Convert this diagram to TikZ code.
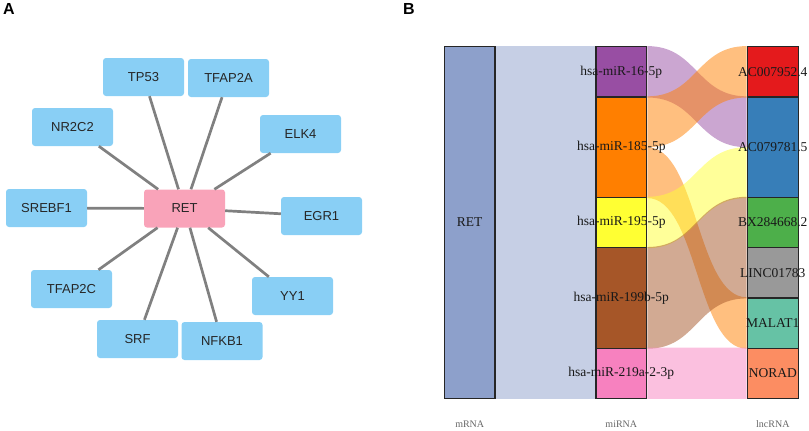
\documentclass[tikz,border=0pt]{standalone}
\usepackage{fontspec}
\setmainfont{Liberation Serif}
\newfontfamily\genefont{Liberation Sans}
\usetikzlibrary{backgrounds}
\definecolor{geneblue}{HTML}{89CFF5}
\definecolor{retpink}{HTML}{F9A3B9}
\definecolor{edgegray}{HTML}{808080}
\definecolor{cRET}{HTML}{8DA0CB}
\definecolor{cMIRa}{HTML}{984EA3}
\definecolor{cMIRb}{HTML}{FF7F00}
\definecolor{cMIRc}{HTML}{FFFF33}
\definecolor{cMIRd}{HTML}{A65628}
\definecolor{cMIRe}{HTML}{F781BF}
\definecolor{cLNCa}{HTML}{E41A1C}
\definecolor{cLNCb}{HTML}{377EB8}
\definecolor{cLNCc}{HTML}{4DAF4A}
\definecolor{cLNCd}{HTML}{999999}
\definecolor{cLNCe}{HTML}{66C2A5}
\definecolor{cLNCf}{HTML}{FC8D62}
\tikzset{
  genebox/.style={rectangle, rounded corners=3pt, fill=geneblue, minimum width=81pt, minimum height=38pt, inner sep=0pt, font=\genefont\fontsize{13}{15}\selectfont, text=black!85},
  tie/.style={draw=edgegray, line width=2.7pt},
  bar/.style={rectangle, draw=black!85, line width=1.2pt, inner sep=0pt},
  every label/.style={font=\fontsize{13.5}{16}\selectfont, text=black!90, inner sep=0pt},
  axislabel/.style={font=\fontsize{10}{12}\selectfont, text=black!60, inner sep=0pt},
  panel/.style={font=\genefont\bfseries\fontsize{16}{18}\selectfont, anchor=base west, inner sep=0pt}
}
\newcommand{\flowband}[5]{\fill[#1, fill opacity=0.5] (#2) .. controls +(50,0) and +(-50,0) .. (#4) -- (#5) .. controls +(-50,0) and +(50,0) .. (#3) -- cycle;}

\begin{document}
\begin{tikzpicture}[x=1pt, y=-1pt]
\useasboundingbox (0,0) rectangle (809,431);
% panel A
\node[panel] (pA) at (3,15) {A};
\node[genebox, fill=retpink] (gRET) at (184.5,208.5) {RET};
\node[genebox] (gTP53) at (143.5,77) {TP53};
\node[genebox] (gTFAP2A) at (228.5,78) {TFAP2A};
\node[genebox] (gNR2C2) at (72.5,127) {NR2C2};
\node[genebox] (gELK4) at (300.5,134) {ELK4};
\node[genebox] (gSREBF1) at (46.5,208) {SREBF1};
\node[genebox] (gEGR1) at (321.5,216) {EGR1};
\node[genebox] (gTFAP2C) at (71.5,289) {TFAP2C};
\node[genebox] (gYY1) at (292.5,296) {YY1};
\node[genebox] (gSRF) at (137.5,339) {SRF};
\node[genebox] (gNFKB1) at (222,341) {NFKB1};
\draw[tie] (gRET) -- (gTP53);
\draw[tie] (gRET) -- (gTFAP2A);
\draw[tie] (gRET) -- (gNR2C2);
\draw[tie] (gRET) -- (gELK4);
\draw[tie] (gRET) -- (gSREBF1);
\draw[tie] (gRET) -- (gEGR1);
\draw[tie] (gRET) -- (gTFAP2C);
\draw[tie] (gRET) -- (gYY1);
\draw[tie] (gRET) -- (gSRF);
\draw[tie] (gRET) -- (gNFKB1);
% panel B
\node[panel] (pB) at (403,15) {B};
\node[bar, fill=cRET, minimum width=50.7pt, minimum height=351.6pt, label=center:RET] (bRET) at (469.7,222.5) {};
\node[bar, fill=cMIRa, minimum width=50.7pt, minimum height=50.2pt, label=center:hsa-miR-16-5p] (m16) at (621.3,71.8) {};
\node[bar, fill=cMIRb, minimum width=50.7pt, minimum height=100.5pt, label=center:hsa-miR-185-5p] (m185) at (621.3,147.2) {};
\node[bar, fill=cMIRc, minimum width=50.7pt, minimum height=50.2pt, label=center:hsa-miR-195-5p] (m195) at (621.3,222.5) {};
\node[bar, fill=cMIRd, minimum width=50.7pt, minimum height=100.5pt, label=center:hsa-miR-199b-5p] (m199) at (621.3,297.9) {};
\node[bar, fill=cMIRe, minimum width=50.7pt, minimum height=50.2pt, label=center:hsa-miR-219a-2-3p] (m219) at (621.3,373.2) {};
\node[bar, fill=cLNCa, minimum width=51pt, minimum height=50.2pt, label=center:AC007952.4] (lAC007) at (772.8,71.8) {};
\node[bar, fill=cLNCb, minimum width=51pt, minimum height=100.5pt, label=center:AC079781.5] (lAC079) at (772.8,147.2) {};
\node[bar, fill=cLNCc, minimum width=51pt, minimum height=50.2pt, label=center:BX284668.2] (lBX) at (772.8,222.5) {};
\node[bar, fill=cLNCd, minimum width=51pt, minimum height=50.2pt, label=center:LINC01783] (lLINC) at (772.8,272.7) {};
\node[bar, fill=cLNCe, minimum width=51pt, minimum height=50.2pt, label=center:MALAT1] (lMALAT) at (772.8,323) {};
\node[bar, fill=cLNCf, minimum width=51pt, minimum height=50.2pt, label=center:NORAD] (lNORAD) at (772.8,373.2) {};
\begin{scope}[on background layer]
\flowband{cRET}{bRET.north east}{bRET.south east}{m16.north west}{m219.south west}
\flowband{cMIRa}{m16.north east}{m16.south east}{lAC079.north west}{lAC079.west}
\flowband{cMIRb}{m185.north east}{m185.east}{lAC007.north west}{lAC007.south west}
\flowband{cMIRb}{m185.east}{m185.south east}{lMALAT.north west}{lMALAT.south west}
\flowband{cMIRc}{m195.north east}{m195.south east}{lAC079.west}{lAC079.south west}
\flowband{cMIRd}{m199.north east}{m199.south east}{lBX.north west}{lLINC.south west}
\flowband{cMIRe}{m219.north east}{m219.south east}{lNORAD.north west}{lNORAD.south west}
\end{scope}
\node[axislabel] (aM) at (469.7,424) {mRNA};
\node[axislabel] (aMI) at (621.3,424) {miRNA};
\node[axislabel] (aL) at (772.8,424) {lncRNA};
\end{tikzpicture}
\end{document}
